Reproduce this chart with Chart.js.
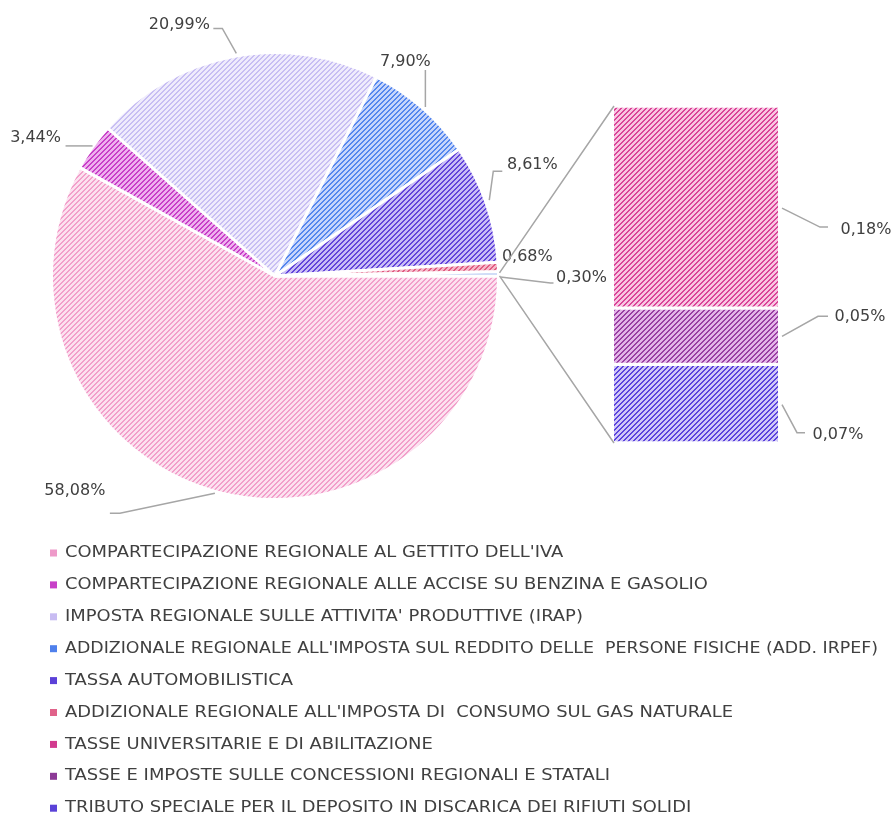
<!DOCTYPE html>
<html>
<head>
<meta charset="utf-8">
<script src="https://cdn.jsdelivr.net/npm/chart.js@4.4.1/dist/chart.umd.min.js"></script>
<style>
  html, body { margin: 0; padding: 0; background: #fff; }
  #wrap { position: relative; width: 895px; height: 817px; }
  #pieCanvas { position: absolute; left: 0; top: 0; }
  #barCanvas { position: absolute; left: 480px; top: 80px; }
</style>
</head>
<body>
<div id="wrap">
  <canvas id="pieCanvas" width="895" height="817"></canvas>
  <canvas id="barCanvas" width="415" height="380"></canvas>
</div>
<script>
// data (percent of total)
var categories = [
  "COMPARTECIPAZIONE REGIONALE AL GETTITO DELL'IVA",
  "COMPARTECIPAZIONE REGIONALE ALLE ACCISE SU BENZINA E GASOLIO",
  "IMPOSTA REGIONALE SULLE ATTIVITA' PRODUTTIVE (IRAP)",
  "ADDIZIONALE REGIONALE ALL'IMPOSTA SUL REDDITO DELLE  PERSONE FISICHE (ADD. IRPEF)",
  "TASSA AUTOMOBILISTICA",
  "ADDIZIONALE REGIONALE ALL'IMPOSTA DI  CONSUMO SUL GAS NATURALE",
  "TASSE UNIVERSITARIE E DI ABILITAZIONE",
  "TASSE E IMPOSTE SULLE CONCESSIONI REGIONALI E STATALI",
  "TRIBUTO SPECIALE PER IL DEPOSITO IN DISCARICA DEI RIFIUTI SOLIDI"
];
var values = [58.08, 3.44, 20.99, 7.90, 8.61, 0.68, 0.18, 0.05, 0.07];
var pieCount = 6;          // first six go in the pie, the rest in the bar
var barOrder = [8, 7, 6];  // bottom to top in the stacked bar

// fill colours: [light, stripe]
var fills = [
  ['#fce1ef', '#f29fcb'],
  ['#eeb0ee', '#c83ec8'],
  ['#efecfc', '#c8bef3'],
  ['#c6d6fb', '#5586ee'],
  ['#c8bdf5', '#6344da'],
  ['#f5b8c8', '#e05a82'],
  ['#f8c6e1', '#da4499'],
  ['#e3b6e8', '#9a3ea4'],
  ['#cfc8f7', '#5b42dd']
];
var legendColors = ['#ee9ac9', '#c840c8', '#c8bcf2', '#4f80ec', '#5b40d8', '#e0628a', '#d23a8e', '#8c3a96', '#5a42d8'];
var otherColor = '#a3bbef';

var TEXT_COLOR = '#404040';
var LINE_COLOR = '#a6a6a6';
var FONT = '16px "DejaVu Sans"';
var LEGEND_STRETCH = 1.12;
var LEGEND_MAX = 813;

function fmt(v) { return v.toFixed(2).replace('.', ',') + '%'; }

function makePattern(ctx, base, stripe) {
  var c = document.createElement('canvas');
  c.width = 5; c.height = 5;
  var g = c.getContext('2d');
  g.fillStyle = base; g.fillRect(0, 0, 5, 5);
  g.fillStyle = stripe;
  for (var x = 0; x < 5; x++) {
    for (var y = 0; y < 5; y++) {
      var k = (x + y) % 5;
      if (k === 3 || k === 4) g.fillRect(x, y, 1, 1);
    }
  }
  return ctx.createPattern(c, 'repeat');
}

// label layout: text offset from slice tip + leader path (offsets from tip)
var pieLabelLayout = [
  { dx: -144, dy: -1, path: [[-4, 1], [-99, 21], [-109, 21]] },
  { dx: -57, dy: -9, path: [[0, -1], [-27, -1]] },
  { dx: -54, dy: -32, path: [[3, -3], [-11, -28], [-20, -28]] },
  { dx: -17, dy: -46, path: [[3, -1], [3, -38]] },
  { dx: 46, dy: -38, path: [[3, -3], [7, -32], [16, -32]] },
  { dx: 29, dy: -10, path: null },
  { dx: 83, dy: 4, path: [[2, 3], [52, 9], [55, 9]] }
];
// bar labels, same order as barOrder
var barLabelLayout = [
  { dx: 60, dy: 31, path: [[4, 1], [19, 29], [27, 29]] },
  { dx: 82, dy: -19, path: [[4, 0], [40, -20], [50, -20]] },
  { dx: 88, dy: 23, path: [[4, 1], [42, 20], [50, 20]] }
];

function drawPath(ctx, x0, y0, path) {
  if (!path) return;
  ctx.beginPath();
  path.forEach(function(p, j) {
    if (j === 0) ctx.moveTo(x0 + p[0], y0 + p[1]);
    else ctx.lineTo(x0 + p[0], y0 + p[1]);
  });
  ctx.stroke();
}

var pieCtx = document.getElementById('pieCanvas').getContext('2d');
var barCtx = document.getElementById('barCanvas').getContext('2d');

var otherValue = 0;
barOrder.forEach(function(i) { otherValue += values[i]; });
var pieValues = values.slice(0, pieCount).concat([otherValue]);
var pieLabels = categories.slice(0, pieCount).concat(['ALTRO']);
var pieFills = fills.slice(0, pieCount).map(function(f) { return makePattern(pieCtx, f[0], f[1]); });
pieFills.push(otherColor);

function sliceTip(arc) {
  var mid = (arc.startAngle + arc.endAngle) / 2;
  return { x: arc.x + Math.cos(mid) * arc.outerRadius, y: arc.y + Math.sin(mid) * arc.outerRadius };
}

var pieLabelsPlugin = {
  id: 'pieLabels',
  afterDatasetsDraw: function(chart) {
    var ctx = chart.ctx;
    var meta = chart.getDatasetMeta(0);
    ctx.save();
    ctx.strokeStyle = LINE_COLOR;
    ctx.lineWidth = 1.5;
    ctx.font = FONT;
    ctx.fillStyle = TEXT_COLOR;
    ctx.textAlign = 'center';
    ctx.textBaseline = 'middle';
    meta.data.forEach(function(arc, i) {
      var t = sliceTip(arc);
      var lay = pieLabelLayout[i];
      drawPath(ctx, t.x, t.y, lay.path);
      ctx.fillText(fmt(pieValues[i]), t.x + lay.dx, t.y + lay.dy);
    });
    ctx.restore();
  }
};

var legendPlugin = {
  id: 'rowLegend',
  afterDraw: function(chart) {
    var ctx = chart.ctx;
    ctx.save();
    ctx.font = FONT;
    ctx.textAlign = 'left';
    ctx.textBaseline = 'middle';
    categories.forEach(function(name, i) {
      var y = 553 + i * 31.9;
      ctx.fillStyle = legendColors[i];
      ctx.fillRect(50, y - 3.5, 7, 7);
      ctx.fillStyle = TEXT_COLOR;
      ctx.save();
      ctx.translate(65, y);
      ctx.scale(LEGEND_STRETCH, 1);
      ctx.fillText(name, 0, 0, LEGEND_MAX / LEGEND_STRETCH);
      ctx.restore();
    });
    ctx.restore();
  }
};

var pieChart = new Chart(pieCtx, {
  type: 'pie',
  data: {
    labels: pieLabels,
    datasets: [{
      data: pieValues,
      backgroundColor: pieFills,
      borderColor: '#ffffff',
      borderWidth: 3,
      hoverOffset: 0
    }]
  },
  options: {
    responsive: false,
    animation: false,
    rotation: 90,
    layout: { padding: { left: 50, right: 395, top: 51, bottom: 316 } },
    plugins: { legend: { display: false }, tooltip: { enabled: false } }
  },
  plugins: [pieLabelsPlugin, legendPlugin]
});

var barLabelsPlugin = {
  id: 'barLabels',
  afterDatasetsDraw: function(chart) {
    var ctx = chart.ctx;
    var area = chart.chartArea;
    var canvasBox = chart.canvas.getBoundingClientRect();
    var pieBox = pieChart.canvas.getBoundingClientRect();
    var pieMeta = pieChart.getDatasetMeta(0);
    var tip = sliceTip(pieMeta.data[pieMeta.data.length - 1]);
    var ox = tip.x + pieBox.left - canvasBox.left;
    var oy = tip.y + pieBox.top - canvasBox.top;
    var topEl = chart.getDatasetMeta(barOrder.length - 1).data[0];
    var botEl = chart.getDatasetMeta(0).data[0];

    ctx.save();
    ctx.strokeStyle = LINE_COLOR;
    ctx.lineWidth = 1.5;
    ctx.beginPath();
    ctx.moveTo(ox + 1, oy - 1);
    ctx.lineTo(area.left, topEl.y);
    ctx.moveTo(ox + 1, oy + 2);
    ctx.lineTo(area.left, botEl.base);
    ctx.stroke();

    ctx.font = FONT;
    ctx.fillStyle = TEXT_COLOR;
    ctx.textAlign = 'center';
    ctx.textBaseline = 'middle';
    barOrder.forEach(function(catIdx, d) {
      var el = chart.getDatasetMeta(d).data[0];
      var rx = el.x + el.width / 2;
      var ry = (el.y + el.base) / 2;
      var lay = barLabelLayout[d];
      drawPath(ctx, rx, ry, lay.path);
      ctx.fillText(fmt(values[catIdx]), rx + lay.dx, ry + lay.dy);
    });
    ctx.restore();
  }
};

new Chart(barCtx, {
  type: 'bar',
  data: {
    labels: [''],
    datasets: barOrder.map(function(i) {
      return {
        label: categories[i],
        data: [values[i]],
        backgroundColor: makePattern(barCtx, fills[i][0], fills[i][1]),
        borderColor: '#ffffff',
        borderWidth: { top: 2, bottom: 2, left: 0, right: 0 },
        borderSkipped: false,
        barPercentage: 1,
        categoryPercentage: 1
      };
    })
  },
  options: {
    responsive: false,
    animation: false,
    layout: { padding: { left: 134, right: 117, top: 26, bottom: 17 } },
    scales: {
      x: { display: false, stacked: true },
      y: { display: false, stacked: true, min: 0, max: otherValue }
    },
    plugins: { legend: { display: false }, tooltip: { enabled: false } }
  },
  plugins: [barLabelsPlugin]
});
</script>
</body>
</html>
